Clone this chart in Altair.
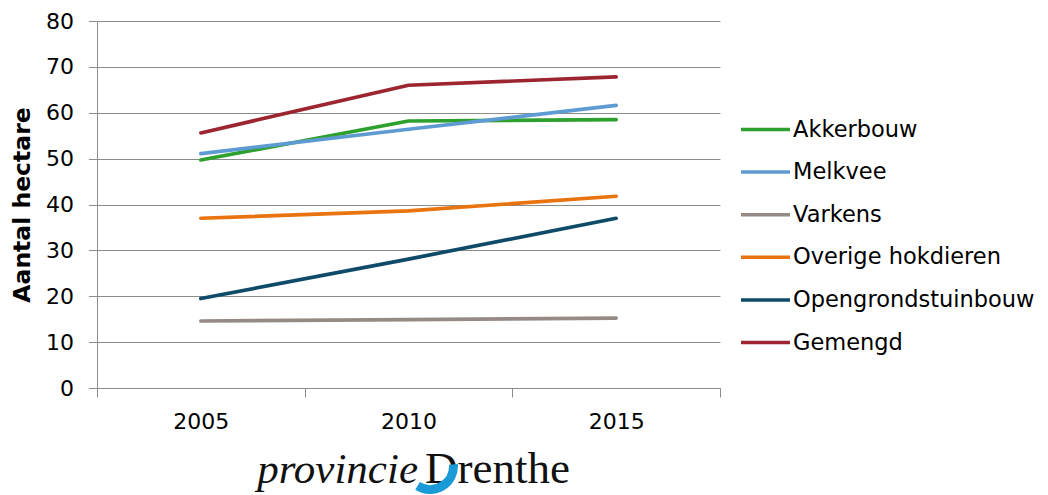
import altair as alt
import pandas as pd

# ---- data ----
years = [2005, 2010, 2015]
series_names = ["Akkerbouw", "Melkvee", "Varkens", "Overige hokdieren",
                "Opengrondstuinbouw", "Gemengd"]
akkerbouw = [49.7, 58.2, 58.5]
melkvee = [51.1, 56.4, 61.6]
varkens = [14.6, 14.9, 15.25]
overige_hokdieren = [37.0, 38.6, 41.8]
opengrondstuinbouw = [19.5, 28.1, 37.0]
gemengd = [55.6, 66.0, 67.8]
series_colors = ["#2ea02e", "#5e9bd2", "#958b84", "#e8730f", "#0f4b68", "#9c2530"]
y_ticks = [0, 10, 20, 30, 40, 50, 60, 70, 80]
x_tick_values = [2002.5, 2005, 2007.5, 2010, 2012.5, 2015, 2017.5]
logo_words = ["provincie", "Drenthe"]

FONT = "DejaVu Sans"
GRID = "#8c8c8c"

rows = []
for name, vals in zip(series_names, [akkerbouw, melkvee, varkens, overige_hokdieren,
                                     opengrondstuinbouw, gemengd]):
    for yr, v in zip(years, vals):
        rows.append({"Jaar": yr, "Serie": name, "Hectare": v})
df = pd.DataFrame(rows)

lines = alt.Chart(df).mark_line(strokeWidth=3.7, strokeCap="round", strokeJoin="round").encode(
    x=alt.X("Jaar:Q",
            scale=alt.Scale(domain=[2002.5, 2017.5], nice=False, zero=False),
            axis=alt.Axis(title=None, values=x_tick_values, format="d",
                          labelExpr="datum.value % 5 === 0 ? datum.label : ''",
                          tickOpacity={"condition": {"test": "datum.value % 5 === 0", "value": 0},
                                       "value": 1},
                          grid=False, domainColor=GRID, tickColor=GRID, tickSize=9,
                          tickWidth=1, domainWidth=1,
                          labelFont=FONT, labelFontSize=22, labelColor="#000000",
                          labelPadding=14, labelOverlap=False, labelFlush=False)),
    y=alt.Y("Hectare:Q",
            scale=alt.Scale(domain=[0, 80], nice=False),
            axis=alt.Axis(title="Aantal hectare", values=y_ticks, grid=True,
                          gridColor=GRID, gridWidth=1, domainColor=GRID, tickColor=GRID,
                          tickSize=8.5, tickWidth=1, domainWidth=1,
                          labelFont=FONT, labelFontSize=22, labelColor="#000000",
                          labelPadding=15,
                          titleFont=FONT, titleFontSize=23.5, titleFontWeight="bold",
                          titleColor="#000000", titlePadding=11)),
    color=alt.Color("Serie:N",
                    scale=alt.Scale(domain=series_names, range=series_colors),
                    sort=series_names,
                    legend=alt.Legend(title=None, orient="none", legendX=642, legendY=82,
                                      symbolType="stroke", symbolSize=2401,
                                      symbolStrokeWidth=3.5, labelFont=FONT,
                                      labelFontSize=22.5, labelColor="#000000",
                                      labelOffset=1, rowPadding=4.6, labelLimit=400)),
)

logo_df = pd.DataFrame({"w": logo_words})

logo_p = alt.Chart(logo_df).transform_filter(
    alt.datum.w == logo_words[0]
).mark_text(font="Liberation Serif", fontSize=43, fontStyle="italic", align="right",
            baseline="alphabetic", color="#111111").encode(
    text="w:N", x=alt.value(321), y=alt.value(462))

logo_d = alt.Chart(logo_df).transform_filter(
    alt.datum.w == logo_words[1]
).mark_text(font="Liberation Serif", fontSize=45, align="left",
            baseline="alphabetic", color="#111111").encode(
    text="w:N", x=alt.value(328), y=alt.value(462))

swoosh = alt.Chart(pd.DataFrame({"k": [0]})).mark_arc(
    theta=1.5, theta2=3.7, innerRadius=19, outerRadius=28, color="#1a9ad6"
).encode(x=alt.value(333), y=alt.value(445))

chart = alt.layer(lines, logo_p, logo_d, swoosh).properties(
    width=623, height=367,
    autosize=alt.AutoSizeParams(type="none"),
    padding={"left": 89, "top": 13, "right": 320, "bottom": 107},
).configure_view(stroke="transparent")

chart.save("out.html", embed_options={"renderer": "svg", "actions": False})
